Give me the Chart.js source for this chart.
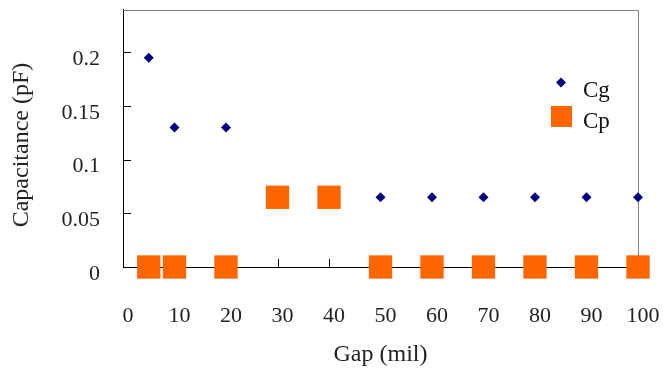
<!DOCTYPE html>
<html>
<head>
<meta charset="utf-8">
<script src="https://cdn.jsdelivr.net/npm/chart.js@4/dist/chart.umd.min.js"></script>
<style>
  html, body { margin: 0; padding: 0; background: #fff; }
  #wrap { width: 663px; height: 379px; position: relative; }
</style>
</head>
<body>
<div id="wrap"><canvas id="c" width="663" height="379"></canvas></div>
<script>
// ---- data ----
const gapCg = [5, 10, 20, 30, 40, 50, 60, 70, 80, 90, 100];
const valCg = [0.195, 0.13, 0.13, 0.065, 0.065, 0.065, 0.065, 0.065, 0.065, 0.065, 0.065];
const gapCp = [5, 10, 20, 30, 40, 50, 60, 70, 80, 90, 100];
const valCp = [0, 0, 0, 0.065, 0.065, 0, 0, 0, 0, 0, 0];
const xTicks = [0, 10, 20, 30, 40, 50, 60, 70, 80, 90, 100];
const yTicks = [0, 0.05, 0.1, 0.15, 0.2];
const yTickLabels = ['0', '0.05', '0.1', '0.15', '0.2'];
const seriesNames = ['Cg', 'Cp'];
const xTitle = 'Gap (mil)';
const yTitle = 'Capacitance (pF)';

const serif = '"Liberation Serif", "Times New Roman", serif';

const framePlugin = {
  id: 'frame',
  beforeDatasetsDraw(chart) {
    const { ctx, chartArea: a, scales: { x, y } } = chart;
    ctx.save();
    ctx.strokeStyle = '#808080';
    ctx.lineWidth = 1;
    ctx.beginPath();
    ctx.moveTo(Math.round(a.left), Math.round(a.top) + 0.5);
    ctx.lineTo(Math.round(a.right) + 0.5, Math.round(a.top) + 0.5);
    ctx.lineTo(Math.round(a.right) + 0.5, Math.round(a.bottom));
    ctx.stroke();
    ctx.strokeStyle = '#000';
    xTicks.forEach(v => {
      if (v === xTicks[0] || v === xTicks[xTicks.length - 1]) return;
      const px = Math.round(x.getPixelForValue(v)) + 0.5;
      ctx.beginPath();
      ctx.moveTo(px, a.bottom);
      ctx.lineTo(px, a.bottom - 8);
      ctx.stroke();
    });
    yTicks.forEach(v => {
      if (v === yTicks[0]) return;
      const py = Math.round(y.getPixelForValue(v)) + 0.5;
      ctx.beginPath();
      ctx.moveTo(a.left, py);
      ctx.lineTo(a.left + 8, py);
      ctx.stroke();
    });
    // y-axis title
    ctx.fillStyle = '#222';
    ctx.font = '24px ' + serif;
    ctx.textAlign = 'center';
    ctx.textBaseline = 'middle';
    ctx.translate(22, 145);
    ctx.rotate(-Math.PI / 2);
    ctx.fillText(yTitle, 0, 0);
    ctx.restore();
  },
  afterDatasetsDraw(chart) {
    const { ctx } = chart;
    ctx.save();
    const ds = chart.data.datasets;
    const lx = 561, ly = 82.5;
    ctx.fillStyle = ds[0].backgroundColor;
    ctx.beginPath();
    ctx.moveTo(lx, ly - 5); ctx.lineTo(lx + 5, ly); ctx.lineTo(lx, ly + 5); ctx.lineTo(lx - 5, ly);
    ctx.closePath(); ctx.fill();
    ctx.fillStyle = ds[1].backgroundColor;
    ctx.fillRect(551, 106, 21, 21);
    ctx.fillStyle = '#111';
    ctx.font = '23px ' + serif;
    ctx.textBaseline = 'alphabetic';
    ctx.textAlign = 'left';
    ctx.fillText(seriesNames[0], 583, 97);
    ctx.fillText(seriesNames[1], 583, 128);
    ctx.restore();
  }
};

new Chart(document.getElementById('c'), {
  type: 'scatter',
  data: {
    datasets: [
      {
        label: seriesNames[0],
        data: gapCg.map((g, i) => ({ x: g, y: valCg[i] })),
        pointStyle: 'rectRot',
        pointRadius: 5,
        pointHoverRadius: 5,
        backgroundColor: '#000080',
        borderColor: '#000080',
        borderWidth: 0,
        clip: false,
        order: 2
      },
      {
        label: seriesNames[1],
        data: gapCp.map((g, i) => ({ x: g, y: valCp[i] })),
        pointStyle: 'rect',
        pointRadius: 16.5,
        pointHoverRadius: 16.5,
        backgroundColor: '#FF6600',
        borderColor: '#FF6600',
        borderWidth: 0,
        clip: false,
        order: 1
      }
    ]
  },
  options: {
    responsive: false,
    animation: false,
    layout: { autoPadding: false, padding: { top: 9.5, right: 25, left: 0, bottom: 0 } },
    plugins: { legend: { display: false }, tooltip: { enabled: false } },
    scales: {
      x: {
        type: 'linear',
        min: 0, max: 100,
        afterBuildTicks: s => { s.ticks = xTicks.map(v => ({ value: v })); },
        afterFit: s => { s.height = 112; s.paddingLeft = 0; s.paddingRight = 0; },
        grid: { display: false },
        border: { display: true, color: '#000', width: 1 },
        ticks: {
          color: '#222',
          font: { family: serif, size: 22 },
          padding: 28,
          labelOffset: 5,
          maxRotation: 0,
          autoSkip: false
        },
        title: {
          display: true,
          text: xTitle,
          color: '#222',
          font: { family: serif, size: 24 },
          padding: { top: 0, bottom: 10 }
        }
      },
      y: {
        type: 'linear',
        min: 0, max: 0.24,
        afterBuildTicks: s => { s.ticks = yTicks.map(v => ({ value: v })); },
        afterFit: s => { s.width = 123; s.paddingTop = 0; s.paddingBottom = 0; },
        grid: { display: false },
        border: { display: true, color: '#000', width: 1 },
        ticks: {
          color: '#222',
          font: { family: serif, size: 22 },
          padding: 15,
          labelOffset: 7,
          autoSkip: false,
          callback: (v) => { const i = yTicks.findIndex(t => Math.abs(t - v) < 1e-9); return i >= 0 ? yTickLabels[i] : ''; }
        },
        title: { display: false }
      }
    }
  },
  plugins: [framePlugin]
});
</script>
</body>
</html>
